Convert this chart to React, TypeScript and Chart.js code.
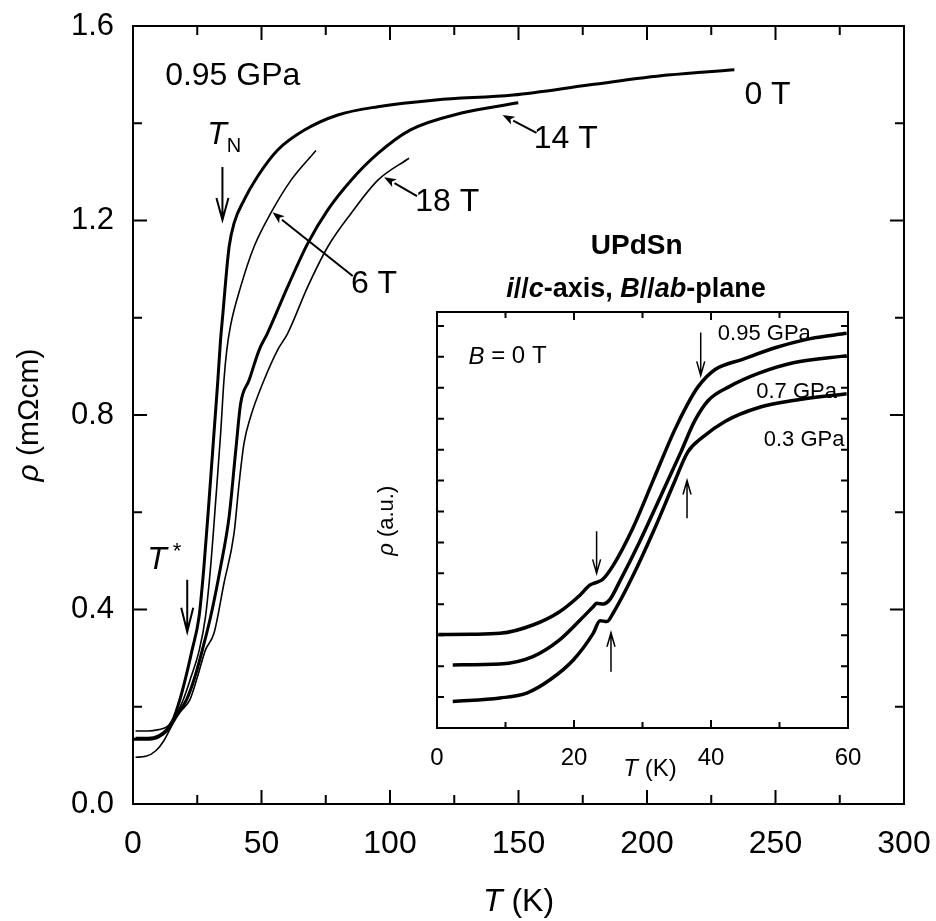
import React, { useEffect, useRef } from "react";
import { Chart, registerables } from "chart.js";
Chart.register(...registerables);

// ---------- main panel data (T in K, rho in mOhm cm), 0.95 GPa ----------
const T_0T = [0, 5, 10, 13, 15.5, 18.2, 20.5, 23, 25.7, 27.6, 29.6, 31.5, 33.0, 34.0, 35.0, 36.1, 37.4, 39.3, 43.2, 48.4, 56.3, 66.7, 79.7, 95.3, 117.8, 147.9, 177.9, 208, 234];
const R_0T = [0.133, 0.133, 0.138, 0.15, 0.172, 0.214, 0.26, 0.317, 0.385, 0.488, 0.625, 0.762, 0.87, 0.95, 1.01, 1.078, 1.146, 1.194, 1.242, 1.29, 1.345, 1.386, 1.417, 1.434, 1.448, 1.458, 1.479, 1.499, 1.51];
const T_6T = [1, 6, 10, 13, 15.5, 19.5, 22.5, 25.8, 28.2, 30.2, 32.2, 34.1, 35.4, 36.5, 38, 41.9, 47.1, 53.6, 61.5, 71.2];
const R_6T = [0.15, 0.15, 0.153, 0.158, 0.172, 0.214, 0.26, 0.317, 0.385, 0.488, 0.625, 0.762, 0.872, 0.934, 0.985, 1.064, 1.146, 1.215, 1.283, 1.344];
const T_14T = [1, 6, 10, 13, 15.5, 20.8, 24, 27, 30.2, 34.1, 37.4, 40, 41.9, 45.2, 49.1, 52.3, 60.2, 68, 75.8, 84.9, 95.3, 107.8, 127.8, 149.9];
const R_14T = [0.135, 0.135, 0.14, 0.152, 0.172, 0.214, 0.26, 0.317, 0.385, 0.488, 0.591, 0.728, 0.824, 0.872, 0.934, 0.968, 1.064, 1.153, 1.222, 1.283, 1.338, 1.386, 1.421, 1.442];
const T_18T = [1, 5, 9, 12, 15.5, 18.5, 22.1, 25, 28.2, 31.5, 35.4, 39.3, 41.3, 43.2, 45.8, 51, 56.3, 60.2, 68, 75.8, 84.9, 95.3, 107.4];
const R_18T = [0.096, 0.098, 0.11, 0.13, 0.165, 0.19, 0.214, 0.26, 0.317, 0.351, 0.454, 0.556, 0.66, 0.742, 0.797, 0.872, 0.934, 0.968, 1.064, 1.146, 1.215, 1.283, 1.328];

const MAIN_X_TICKS = [0, 50, 100, 150, 200, 250, 300];
const MAIN_Y_TICKS = [0.0, 0.4, 0.8, 1.2, 1.6];

// ---------- inset data (T in K, rho in a.u.), B = 0 T ----------
const T_095 = [0.2, 5, 9.2, 14.0, 17.9, 20.9, 22.3, 23.2, 24.2, 25.7, 28.6, 31.6, 34.6, 36.6, 38.1, 40.6, 44.6, 49.6, 54.5, 59.8];
const R_095 = [3.02, 3.03, 3.06, 3.33, 3.76, 4.3, 4.62, 4.7, 4.81, 5.25, 6.47, 8.03, 9.59, 10.48, 11.03, 11.59, 11.92, 12.31, 12.59, 12.76];
const T_07 = [2.3, 9.2, 14.0, 17.9, 20.9, 22.8, 23.3, 24.3, 25.2, 26.7, 29.6, 32.6, 35.6, 37.6, 39.6, 42.6, 47.1, 52.0, 59.8];
const R_07 = [2.04, 2.07, 2.31, 2.85, 3.49, 3.92, 4.03, 4.01, 4.14, 4.75, 6.03, 7.47, 8.92, 9.92, 10.59, 11.03, 11.48, 11.81, 12.04];
const T_03 = [2.3, 9.2, 13.1, 16.5, 19.9, 22.8, 23.8, 24.8, 25.7, 28.6, 31.6, 34.6, 36.6, 38.6, 42.1, 47.1, 52.0, 59.8];
const R_03 = [0.86, 0.97, 1.13, 1.56, 2.2, 3.06, 3.47, 3.44, 3.71, 4.92, 6.36, 7.92, 8.92, 9.37, 9.92, 10.37, 10.59, 10.81];

const INSET_X_TICKS = [0, 20, 40, 60];

const FONT = "'Liberation Sans', Arial, Helvetica, sans-serif";

type Part = { t: string; i?: boolean; b?: boolean; size: number; dy?: number };

function drawRich(ctx: CanvasRenderingContext2D, x: number, y: number, parts: Part[], align: "left" | "center" | "right" = "left") {
  const fontOf = (p: Part) => `${p.i ? "italic " : ""}${p.b ? "bold " : ""}${p.size}px ${FONT}`;
  let total = 0;
  const widths = parts.map((p) => {
    ctx.font = fontOf(p);
    const w = ctx.measureText(p.t).width;
    total += w;
    return w;
  });
  let cx = align === "left" ? x : align === "center" ? x - total / 2 : x - total;
  ctx.textBaseline = "middle";
  ctx.textAlign = "left";
  parts.forEach((p, k) => {
    ctx.font = fontOf(p);
    ctx.fillText(p.t, cx, y + (p.dy || 0));
    cx += widths[k];
  });
}

function arrowOpen(ctx: CanvasRenderingContext2D, x1: number, y1: number, x2: number, y2: number, len: number, half: number, lw: number) {
  ctx.save();
  ctx.lineWidth = lw;
  ctx.strokeStyle = "#000";
  ctx.beginPath();
  ctx.moveTo(x1, y1);
  ctx.lineTo(x2, y2);
  const a = Math.atan2(y2 - y1, x2 - x1);
  const bx = x2 - len * Math.cos(a);
  const by = y2 - len * Math.sin(a);
  const px = -Math.sin(a) * half;
  const py = Math.cos(a) * half;
  ctx.moveTo(bx + px, by + py);
  ctx.lineTo(x2, y2);
  ctx.lineTo(bx - px, by - py);
  ctx.stroke();
  ctx.restore();
}

function arrowFilled(ctx: CanvasRenderingContext2D, x1: number, y1: number, x2: number, y2: number, len: number, half: number, lw: number) {
  ctx.save();
  ctx.lineWidth = lw;
  ctx.strokeStyle = "#000";
  ctx.fillStyle = "#000";
  const a = Math.atan2(y2 - y1, x2 - x1);
  const bx = x2 - len * Math.cos(a);
  const by = y2 - len * Math.sin(a);
  ctx.beginPath();
  ctx.moveTo(x1, y1);
  ctx.lineTo(bx, by);
  ctx.stroke();
  const px = -Math.sin(a) * half;
  const py = Math.cos(a) * half;
  ctx.beginPath();
  ctx.moveTo(x2, y2);
  ctx.lineTo(bx + px, by + py);
  ctx.lineTo(bx + 0.25 * len * Math.cos(a), by + 0.25 * len * Math.sin(a));
  ctx.lineTo(bx - px, by - py);
  ctx.closePath();
  ctx.fill();
  ctx.restore();
}

const pts = (xs: number[], ys: number[]) => xs.map((x, k) => ({ x, y: ys[k] }));

const mainDecor = {
  id: "mainDecor",
  afterDraw(chart: any) {
    const ctx: CanvasRenderingContext2D = chart.ctx;
    const xs = chart.scales.x;
    const ys = chart.scales.y;
    const { left, right, top, bottom } = chart.chartArea;
    const X = (v: number) => xs.getPixelForValue(v);
    const Y = (v: number) => ys.getPixelForValue(v);
    ctx.save();
    ctx.fillStyle = "#000";
    ctx.strokeStyle = "#000";
    // frame
    ctx.lineWidth = 2;
    ctx.strokeRect(left, top, right - left, bottom - top);
    // ticks (inward, all four sides)
    ctx.lineWidth = 2;
    ctx.beginPath();
    for (let v = 0; v <= 300; v += 25) {
      const major = v % 50 === 0;
      const L = major ? 14 : 9;
      const px = X(v);
      ctx.moveTo(px, bottom);
      ctx.lineTo(px, bottom - L);
      ctx.moveTo(px, top);
      ctx.lineTo(px, top + L);
    }
    for (let k = 0; k <= 8; k++) {
      const v = k * 0.2;
      const major = k % 2 === 0;
      const L = major ? 14 : 9;
      const py = Y(v);
      ctx.moveTo(left, py);
      ctx.lineTo(left + L, py);
      ctx.moveTo(right, py);
      ctx.lineTo(right - L, py);
    }
    ctx.stroke();
    // tick labels
    ctx.font = `32px ${FONT}`;
    ctx.textAlign = "center";
    ctx.textBaseline = "middle";
    MAIN_X_TICKS.forEach((v) => ctx.fillText(String(v), X(v), bottom + 40));
    ctx.font = `31px ${FONT}`;
    ctx.textAlign = "right";
    MAIN_Y_TICKS.forEach((v) => ctx.fillText(v.toFixed(1), left - 19, Y(v)));
    // axis titles
    drawRich(ctx, (left + right) / 2, bottom + 98, [
      { t: "T", i: true, size: 32 },
      { t: " (K)", size: 32 },
    ], "center");
    ctx.save();
    ctx.translate(left - 103, (top + bottom) / 2);
    ctx.rotate(-Math.PI / 2);
    drawRich(ctx, 0, 0, [
      { t: "\u03c1", i: true, size: 30 },
      { t: " (m\u03a9cm)", size: 30 },
    ], "center");
    ctx.restore();
    // annotations
    drawRich(ctx, X(12.5), Y(1.497), [{ t: "0.95 GPa", size: 32 }]);
    drawRich(ctx, X(237.9), Y(1.458), [{ t: "0 T", size: 32 }]);
    drawRich(ctx, X(155.9), Y(1.368), [{ t: "14 T", size: 32 }]);
    drawRich(ctx, X(109.8), Y(1.238), [{ t: "18 T", size: 32 }]);
    drawRich(ctx, X(84.8), Y(1.069), [{ t: "6 T", size: 32 }]);
    arrowFilled(ctx, X(157), Y(1.38), X(143.8), Y(1.417), 12, 4.5, 2);
    arrowFilled(ctx, X(110.5), Y(1.25), X(97.7), Y(1.289), 12, 4.5, 2);
    arrowFilled(ctx, X(85.5), Y(1.086), X(54.3), Y(1.217), 12, 4.5, 2);
    // T_N
    drawRich(ctx, X(28.9), Y(1.376), [
      { t: "T", i: true, size: 32 },
      { t: "N", size: 20, dy: 12 },
    ]);
    arrowOpen(ctx, X(34.8), Y(1.31), X(34.8), Y(1.201), 22, 6, 2);
    // T*
    drawRich(ctx, X(5.5), Y(0.502), [
      { t: "T", i: true, size: 32 },
      { t: " *", size: 22, dy: -8 },
    ]);
    arrowOpen(ctx, X(21.1), Y(0.461), X(21.1), Y(0.354), 24, 6, 2);
    // sample / geometry labels
    drawRich(ctx, X(196), Y(1.146), [{ t: "UPdSn", b: true, size: 28 }], "center");
    drawRich(ctx, X(195.7), Y(1.057), [
      { t: "i", b: true, i: true, size: 27 },
      { t: "//", b: true, size: 27 },
      { t: "c", b: true, i: true, size: 27 },
      { t: "-axis, ", b: true, size: 27 },
      { t: "B", b: true, i: true, size: 27 },
      { t: "//", b: true, size: 27 },
      { t: "ab", b: true, i: true, size: 27 },
      { t: "-plane", b: true, size: 27 },
    ], "center");
    ctx.restore();
  },
};

const insetDecor = {
  id: "insetDecor",
  afterDraw(chart: any) {
    const ctx: CanvasRenderingContext2D = chart.ctx;
    const xs = chart.scales.x;
    const ys = chart.scales.y;
    const { left, right, top, bottom } = chart.chartArea;
    const X = (v: number) => xs.getPixelForValue(v);
    const Y = (v: number) => ys.getPixelForValue(v);
    ctx.save();
    ctx.fillStyle = "#000";
    ctx.strokeStyle = "#000";
    ctx.lineWidth = 2;
    ctx.strokeRect(left, top, right - left, bottom - top);
    ctx.beginPath();
    for (let v = 0; v <= 60; v += 10) {
      const L = v % 20 === 0 ? 8 : 6;
      ctx.moveTo(X(v), bottom);
      ctx.lineTo(X(v), bottom - L);
      ctx.moveTo(X(v), top);
      ctx.lineTo(X(v), top + L);
    }
    for (let v = 1; v <= 13; v += 1) {
      ctx.moveTo(left, Y(v));
      ctx.lineTo(left + 7, Y(v));
      ctx.moveTo(right, Y(v));
      ctx.lineTo(right - 7, Y(v));
    }
    ctx.stroke();
    ctx.font = `24px ${FONT}`;
    ctx.textAlign = "center";
    ctx.textBaseline = "middle";
    INSET_X_TICKS.forEach((v) => ctx.fillText(String(v), X(v), bottom + 30));
    drawRich(ctx, X(31.1), bottom + 41, [
      { t: "T", i: true, size: 24 },
      { t: " (K)", size: 24 },
    ], "center");
    ctx.save();
    ctx.translate(left - 50, Y(6.7));
    ctx.rotate(-Math.PI / 2);
    drawRich(ctx, 0, 0, [
      { t: "\u03c1", i: true, size: 22 },
      { t: " (a.u.)", size: 22 },
    ], "center");
    ctx.restore();
    drawRich(ctx, X(4.6), Y(12.0), [
      { t: "B", i: true, size: 24 },
      { t: " = 0 T", size: 24 },
    ]);
    drawRich(ctx, X(41), Y(12.75), [{ t: "0.95 GPa", size: 22 }]);
    drawRich(ctx, X(46.6), Y(10.85), [{ t: "0.7 GPa", size: 22 }]);
    drawRich(ctx, X(47.7), Y(9.3), [{ t: "0.3 GPa", size: 22 }]);
    arrowOpen(ctx, X(38.5), Y(12.79), X(38.5), Y(11.4), 14, 4, 1.5);
    arrowOpen(ctx, X(36.5), Y(6.78), X(36.5), Y(8.0), 14, 4, 1.5);
    arrowOpen(ctx, X(23.3), Y(6.36), X(23.3), Y(5.0), 14, 4, 1.5);
    arrowOpen(ctx, X(25.4), Y(1.82), X(25.4), Y(3.08), 14, 4, 1.5);
    ctx.restore();
  },
};

const lineDs = (xs: number[], ys: number[], w: number) => ({
  data: pts(xs, ys),
  borderColor: "#000",
  borderWidth: w,
  pointRadius: 0,
  fill: false,
  cubicInterpolationMode: "monotone" as const,
});

export default function App() {
  const mainRef = useRef<HTMLCanvasElement>(null);
  const insetRef = useRef<HTMLCanvasElement>(null);
  useEffect(() => {
    document.body.style.margin = "0";
    const main = new Chart(mainRef.current!, {
      type: "line",
      data: {
        datasets: [
          lineDs(T_0T, R_0T, 3),
          lineDs(T_6T, R_6T, 1.6),
          lineDs(T_14T, R_14T, 3),
          lineDs(T_18T, R_18T, 1.6),
        ],
      },
      options: {
        animation: false,
        responsive: false,
        devicePixelRatio: 1,
        layout: { padding: { left: 133, top: 26, right: 32, bottom: 117 } },
        plugins: { legend: { display: false }, tooltip: { enabled: false } },
        scales: {
          x: { type: "linear", min: 0, max: 300, display: false },
          y: { type: "linear", min: 0, max: 1.6, display: false },
        },
      },
      plugins: [mainDecor],
    } as any);
    const inset = new Chart(insetRef.current!, {
      type: "line",
      data: {
        datasets: [
          lineDs(T_095, R_095, 3.5),
          lineDs(T_07, R_07, 3.5),
          lineDs(T_03, R_03, 3.5),
        ],
      },
      options: {
        animation: false,
        responsive: false,
        devicePixelRatio: 1,
        layout: { padding: { left: 437, top: 312, right: 88, bottom: 193 } },
        plugins: { legend: { display: false }, tooltip: { enabled: false } },
        scales: {
          x: { type: "linear", min: 0, max: 60, display: false },
          y: { type: "linear", min: 0, max: 13.45, display: false },
        },
      },
      plugins: [insetDecor],
    } as any);
    return () => {
      main.destroy();
      inset.destroy();
    };
  }, []);
  return (
    <div style={{ position: "absolute", left: 0, top: 0, width: 936, height: 921, background: "#fff" }}>
      <canvas ref={mainRef} width={936} height={921} style={{ position: "absolute", left: 0, top: 0, width: 936, height: 921 }} />
      <canvas ref={insetRef} width={936} height={921} style={{ position: "absolute", left: 0, top: 0, width: 936, height: 921 }} />
    </div>
  );
}
